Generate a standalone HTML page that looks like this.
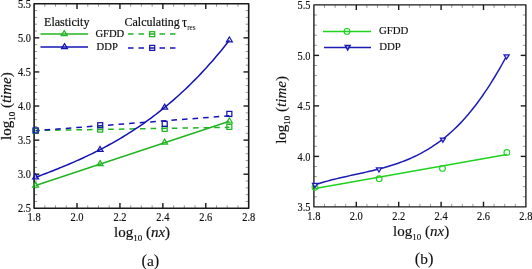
<!DOCTYPE html>
<html><head><meta charset="utf-8"><style>
html,body{margin:0;padding:0;background:#fff;overflow:hidden}
svg{display:block;will-change:transform}
text{font-family:"Liberation Serif", serif;fill:#111;stroke:#111;stroke-width:0.2px}
.R text{stroke-width:0.15px}
text.tk{stroke-width:0.15px}
</style></head><body>
<svg width="532" height="269" viewBox="0 0 532 269">
<rect width="532" height="269" fill="#fff"/>
<line x1="44.83" y1="208.30" x2="44.83" y2="205.30" stroke="#555" stroke-width="0.6"/>
<line x1="44.83" y1="3.75" x2="44.83" y2="6.75" stroke="#555" stroke-width="0.6"/>
<line x1="55.56" y1="208.30" x2="55.56" y2="205.30" stroke="#555" stroke-width="0.6"/>
<line x1="55.56" y1="3.75" x2="55.56" y2="6.75" stroke="#555" stroke-width="0.6"/>
<line x1="66.29" y1="208.30" x2="66.29" y2="205.30" stroke="#555" stroke-width="0.6"/>
<line x1="66.29" y1="3.75" x2="66.29" y2="6.75" stroke="#555" stroke-width="0.6"/>
<line x1="87.75" y1="208.30" x2="87.75" y2="205.30" stroke="#555" stroke-width="0.6"/>
<line x1="87.75" y1="3.75" x2="87.75" y2="6.75" stroke="#555" stroke-width="0.6"/>
<line x1="98.48" y1="208.30" x2="98.48" y2="205.30" stroke="#555" stroke-width="0.6"/>
<line x1="98.48" y1="3.75" x2="98.48" y2="6.75" stroke="#555" stroke-width="0.6"/>
<line x1="109.21" y1="208.30" x2="109.21" y2="205.30" stroke="#555" stroke-width="0.6"/>
<line x1="109.21" y1="3.75" x2="109.21" y2="6.75" stroke="#555" stroke-width="0.6"/>
<line x1="130.67" y1="208.30" x2="130.67" y2="205.30" stroke="#555" stroke-width="0.6"/>
<line x1="130.67" y1="3.75" x2="130.67" y2="6.75" stroke="#555" stroke-width="0.6"/>
<line x1="141.40" y1="208.30" x2="141.40" y2="205.30" stroke="#555" stroke-width="0.6"/>
<line x1="141.40" y1="3.75" x2="141.40" y2="6.75" stroke="#555" stroke-width="0.6"/>
<line x1="152.13" y1="208.30" x2="152.13" y2="205.30" stroke="#555" stroke-width="0.6"/>
<line x1="152.13" y1="3.75" x2="152.13" y2="6.75" stroke="#555" stroke-width="0.6"/>
<line x1="173.59" y1="208.30" x2="173.59" y2="205.30" stroke="#555" stroke-width="0.6"/>
<line x1="173.59" y1="3.75" x2="173.59" y2="6.75" stroke="#555" stroke-width="0.6"/>
<line x1="184.32" y1="208.30" x2="184.32" y2="205.30" stroke="#555" stroke-width="0.6"/>
<line x1="184.32" y1="3.75" x2="184.32" y2="6.75" stroke="#555" stroke-width="0.6"/>
<line x1="195.05" y1="208.30" x2="195.05" y2="205.30" stroke="#555" stroke-width="0.6"/>
<line x1="195.05" y1="3.75" x2="195.05" y2="6.75" stroke="#555" stroke-width="0.6"/>
<line x1="216.51" y1="208.30" x2="216.51" y2="205.30" stroke="#555" stroke-width="0.6"/>
<line x1="216.51" y1="3.75" x2="216.51" y2="6.75" stroke="#555" stroke-width="0.6"/>
<line x1="227.24" y1="208.30" x2="227.24" y2="205.30" stroke="#555" stroke-width="0.6"/>
<line x1="227.24" y1="3.75" x2="227.24" y2="6.75" stroke="#555" stroke-width="0.6"/>
<line x1="237.97" y1="208.30" x2="237.97" y2="205.30" stroke="#555" stroke-width="0.6"/>
<line x1="237.97" y1="3.75" x2="237.97" y2="6.75" stroke="#555" stroke-width="0.6"/>
<line x1="34.10" y1="201.48" x2="37.10" y2="201.48" stroke="#555" stroke-width="0.6"/>
<line x1="248.70" y1="201.48" x2="245.70" y2="201.48" stroke="#555" stroke-width="0.6"/>
<line x1="34.10" y1="194.66" x2="37.10" y2="194.66" stroke="#555" stroke-width="0.6"/>
<line x1="248.70" y1="194.66" x2="245.70" y2="194.66" stroke="#555" stroke-width="0.6"/>
<line x1="34.10" y1="187.85" x2="37.10" y2="187.85" stroke="#555" stroke-width="0.6"/>
<line x1="248.70" y1="187.85" x2="245.70" y2="187.85" stroke="#555" stroke-width="0.6"/>
<line x1="34.10" y1="181.03" x2="37.10" y2="181.03" stroke="#555" stroke-width="0.6"/>
<line x1="248.70" y1="181.03" x2="245.70" y2="181.03" stroke="#555" stroke-width="0.6"/>
<line x1="34.10" y1="167.39" x2="37.10" y2="167.39" stroke="#555" stroke-width="0.6"/>
<line x1="248.70" y1="167.39" x2="245.70" y2="167.39" stroke="#555" stroke-width="0.6"/>
<line x1="34.10" y1="160.57" x2="37.10" y2="160.57" stroke="#555" stroke-width="0.6"/>
<line x1="248.70" y1="160.57" x2="245.70" y2="160.57" stroke="#555" stroke-width="0.6"/>
<line x1="34.10" y1="153.75" x2="37.10" y2="153.75" stroke="#555" stroke-width="0.6"/>
<line x1="248.70" y1="153.75" x2="245.70" y2="153.75" stroke="#555" stroke-width="0.6"/>
<line x1="34.10" y1="146.94" x2="37.10" y2="146.94" stroke="#555" stroke-width="0.6"/>
<line x1="248.70" y1="146.94" x2="245.70" y2="146.94" stroke="#555" stroke-width="0.6"/>
<line x1="34.10" y1="133.30" x2="37.10" y2="133.30" stroke="#555" stroke-width="0.6"/>
<line x1="248.70" y1="133.30" x2="245.70" y2="133.30" stroke="#555" stroke-width="0.6"/>
<line x1="34.10" y1="126.48" x2="37.10" y2="126.48" stroke="#555" stroke-width="0.6"/>
<line x1="248.70" y1="126.48" x2="245.70" y2="126.48" stroke="#555" stroke-width="0.6"/>
<line x1="34.10" y1="119.66" x2="37.10" y2="119.66" stroke="#555" stroke-width="0.6"/>
<line x1="248.70" y1="119.66" x2="245.70" y2="119.66" stroke="#555" stroke-width="0.6"/>
<line x1="34.10" y1="112.84" x2="37.10" y2="112.84" stroke="#555" stroke-width="0.6"/>
<line x1="248.70" y1="112.84" x2="245.70" y2="112.84" stroke="#555" stroke-width="0.6"/>
<line x1="34.10" y1="99.21" x2="37.10" y2="99.21" stroke="#555" stroke-width="0.6"/>
<line x1="248.70" y1="99.21" x2="245.70" y2="99.21" stroke="#555" stroke-width="0.6"/>
<line x1="34.10" y1="92.39" x2="37.10" y2="92.39" stroke="#555" stroke-width="0.6"/>
<line x1="248.70" y1="92.39" x2="245.70" y2="92.39" stroke="#555" stroke-width="0.6"/>
<line x1="34.10" y1="85.57" x2="37.10" y2="85.57" stroke="#555" stroke-width="0.6"/>
<line x1="248.70" y1="85.57" x2="245.70" y2="85.57" stroke="#555" stroke-width="0.6"/>
<line x1="34.10" y1="78.75" x2="37.10" y2="78.75" stroke="#555" stroke-width="0.6"/>
<line x1="248.70" y1="78.75" x2="245.70" y2="78.75" stroke="#555" stroke-width="0.6"/>
<line x1="34.10" y1="65.12" x2="37.10" y2="65.12" stroke="#555" stroke-width="0.6"/>
<line x1="248.70" y1="65.12" x2="245.70" y2="65.12" stroke="#555" stroke-width="0.6"/>
<line x1="34.10" y1="58.30" x2="37.10" y2="58.30" stroke="#555" stroke-width="0.6"/>
<line x1="248.70" y1="58.30" x2="245.70" y2="58.30" stroke="#555" stroke-width="0.6"/>
<line x1="34.10" y1="51.48" x2="37.10" y2="51.48" stroke="#555" stroke-width="0.6"/>
<line x1="248.70" y1="51.48" x2="245.70" y2="51.48" stroke="#555" stroke-width="0.6"/>
<line x1="34.10" y1="44.66" x2="37.10" y2="44.66" stroke="#555" stroke-width="0.6"/>
<line x1="248.70" y1="44.66" x2="245.70" y2="44.66" stroke="#555" stroke-width="0.6"/>
<line x1="34.10" y1="31.02" x2="37.10" y2="31.02" stroke="#555" stroke-width="0.6"/>
<line x1="248.70" y1="31.02" x2="245.70" y2="31.02" stroke="#555" stroke-width="0.6"/>
<line x1="34.10" y1="24.20" x2="37.10" y2="24.20" stroke="#555" stroke-width="0.6"/>
<line x1="248.70" y1="24.20" x2="245.70" y2="24.20" stroke="#555" stroke-width="0.6"/>
<line x1="34.10" y1="17.39" x2="37.10" y2="17.39" stroke="#555" stroke-width="0.6"/>
<line x1="248.70" y1="17.39" x2="245.70" y2="17.39" stroke="#555" stroke-width="0.6"/>
<line x1="34.10" y1="10.57" x2="37.10" y2="10.57" stroke="#555" stroke-width="0.6"/>
<line x1="248.70" y1="10.57" x2="245.70" y2="10.57" stroke="#555" stroke-width="0.6"/>
<line x1="77.02" y1="208.30" x2="77.02" y2="203.10" stroke="#1a1a1a" stroke-width="1.4"/>
<line x1="77.02" y1="3.75" x2="77.02" y2="8.95" stroke="#1a1a1a" stroke-width="1.4"/>
<line x1="119.94" y1="208.30" x2="119.94" y2="203.10" stroke="#1a1a1a" stroke-width="1.4"/>
<line x1="119.94" y1="3.75" x2="119.94" y2="8.95" stroke="#1a1a1a" stroke-width="1.4"/>
<line x1="162.86" y1="208.30" x2="162.86" y2="203.10" stroke="#1a1a1a" stroke-width="1.4"/>
<line x1="162.86" y1="3.75" x2="162.86" y2="8.95" stroke="#1a1a1a" stroke-width="1.4"/>
<line x1="205.78" y1="208.30" x2="205.78" y2="203.10" stroke="#1a1a1a" stroke-width="1.4"/>
<line x1="205.78" y1="3.75" x2="205.78" y2="8.95" stroke="#1a1a1a" stroke-width="1.4"/>
<line x1="34.10" y1="174.21" x2="39.30" y2="174.21" stroke="#1a1a1a" stroke-width="1.4"/>
<line x1="248.70" y1="174.21" x2="243.50" y2="174.21" stroke="#1a1a1a" stroke-width="1.4"/>
<line x1="34.10" y1="140.12" x2="39.30" y2="140.12" stroke="#1a1a1a" stroke-width="1.4"/>
<line x1="248.70" y1="140.12" x2="243.50" y2="140.12" stroke="#1a1a1a" stroke-width="1.4"/>
<line x1="34.10" y1="106.02" x2="39.30" y2="106.02" stroke="#1a1a1a" stroke-width="1.4"/>
<line x1="248.70" y1="106.02" x2="243.50" y2="106.02" stroke="#1a1a1a" stroke-width="1.4"/>
<line x1="34.10" y1="71.93" x2="39.30" y2="71.93" stroke="#1a1a1a" stroke-width="1.4"/>
<line x1="248.70" y1="71.93" x2="243.50" y2="71.93" stroke="#1a1a1a" stroke-width="1.4"/>
<line x1="34.10" y1="37.84" x2="39.30" y2="37.84" stroke="#1a1a1a" stroke-width="1.4"/>
<line x1="248.70" y1="37.84" x2="243.50" y2="37.84" stroke="#1a1a1a" stroke-width="1.4"/>
<rect x="34.10" y="3.75" width="214.60" height="204.55" fill="none" stroke="#1a1a1a" stroke-width="1.6" stroke-linejoin="round"/>
<path d="M35.6,130.5 L229.4,127.3" fill="none" stroke="#22b422" stroke-width="1.5" stroke-dasharray="5.6 5" stroke-dashoffset="1.6"/>
<path d="M35.6,130.7 L229.4,115.8" fill="none" stroke="#1414b4" stroke-width="1.5" stroke-dasharray="5.6 5" stroke-dashoffset="1.6"/>
<path d="M35.6,185.5 L229.4,121.3" fill="none" stroke="#22b422" stroke-width="1.5"/>
<path d="M35.60,177.32 L37.78,176.51 L39.96,175.70 L42.13,174.88 L44.31,174.05 L46.49,173.22 L48.67,172.38 L50.84,171.53 L53.02,170.68 L55.20,169.82 L57.38,168.95 L59.55,168.07 L61.73,167.18 L63.91,166.28 L66.09,165.37 L68.26,164.46 L70.44,163.53 L72.62,162.59 L74.80,161.64 L76.97,160.67 L79.15,159.70 L81.33,158.71 L83.51,157.71 L85.68,156.69 L87.86,155.66 L90.04,154.62 L92.22,153.56 L94.39,152.49 L96.57,151.40 L98.75,150.30 L100.93,149.18 L103.10,148.04 L105.28,146.89 L107.46,145.72 L109.64,144.53 L111.81,143.32 L113.99,142.10 L116.17,140.85 L118.35,139.59 L120.52,138.30 L122.70,137.00 L124.88,135.68 L127.06,134.33 L129.23,132.97 L131.41,131.58 L133.59,130.17 L135.77,128.74 L137.94,127.28 L140.12,125.80 L142.30,124.30 L144.48,122.77 L146.65,121.22 L148.83,119.65 L151.01,118.05 L153.19,116.42 L155.36,114.77 L157.54,113.09 L159.72,111.38 L161.90,109.65 L164.07,107.89 L166.25,106.10 L168.43,104.29 L170.61,102.44 L172.78,100.57 L174.96,98.66 L177.14,96.73 L179.32,94.76 L181.49,92.77 L183.67,90.74 L185.85,88.68 L188.03,86.60 L190.20,84.47 L192.38,82.32 L194.56,80.13 L196.74,77.91 L198.91,75.66 L201.09,73.37 L203.27,71.04 L205.45,68.69 L207.62,66.29 L209.80,63.86 L211.98,61.40 L214.16,58.89 L216.33,56.35 L218.51,53.78 L220.69,51.16 L222.87,48.51 L225.04,45.82 L227.22,43.09 L229.40,40.32" fill="none" stroke="#1414b4" stroke-width="1.5"/>
<rect x="33.10" y="128.40" width="5.00" height="5.00" fill="none" stroke="#22b422" stroke-width="1.25"/>
<rect x="33.10" y="127.90" width="5.00" height="5.00" fill="none" stroke="#1414b4" stroke-width="1.25"/>
<rect x="97.70" y="127.10" width="5.00" height="5.00" fill="none" stroke="#22b422" stroke-width="1.25"/>
<rect x="97.70" y="122.70" width="5.00" height="5.00" fill="none" stroke="#1414b4" stroke-width="1.25"/>
<rect x="162.20" y="126.30" width="5.00" height="5.00" fill="none" stroke="#22b422" stroke-width="1.25"/>
<rect x="162.20" y="121.40" width="5.00" height="5.00" fill="none" stroke="#1414b4" stroke-width="1.25"/>
<rect x="226.85" y="124.40" width="5.00" height="5.00" fill="none" stroke="#22b422" stroke-width="1.25"/>
<rect x="226.85" y="111.40" width="5.00" height="5.00" fill="none" stroke="#1414b4" stroke-width="1.25"/>
<path d="M35.60,182.17 L38.60,187.17 L32.60,187.17Z" fill="none" stroke="#22b422" stroke-width="1.2" stroke-linejoin="miter"/>
<path d="M100.10,160.67 L103.10,165.67 L97.10,165.67Z" fill="none" stroke="#22b422" stroke-width="1.2" stroke-linejoin="miter"/>
<path d="M164.60,139.17 L167.60,144.17 L161.60,144.17Z" fill="none" stroke="#22b422" stroke-width="1.2" stroke-linejoin="miter"/>
<path d="M229.40,117.97 L232.40,122.97 L226.40,122.97Z" fill="none" stroke="#22b422" stroke-width="1.2" stroke-linejoin="miter"/>
<path d="M35.60,173.97 L38.60,178.97 L32.60,178.97Z" fill="none" stroke="#1414b4" stroke-width="1.2" stroke-linejoin="miter"/>
<path d="M100.10,146.47 L103.10,151.47 L97.10,151.47Z" fill="none" stroke="#1414b4" stroke-width="1.2" stroke-linejoin="miter"/>
<path d="M164.60,104.07 L167.60,109.07 L161.60,109.07Z" fill="none" stroke="#1414b4" stroke-width="1.2" stroke-linejoin="miter"/>
<path d="M229.40,36.97 L232.40,41.97 L226.40,41.97Z" fill="none" stroke="#1414b4" stroke-width="1.2" stroke-linejoin="miter"/>
<line x1="40.5" y1="34" x2="88" y2="34" stroke="#22b422" stroke-width="1.5"/>
<path d="M64.20,30.67 L67.20,35.67 L61.20,35.67Z" fill="none" stroke="#22b422" stroke-width="1.2" stroke-linejoin="miter"/>
<line x1="40.5" y1="47" x2="88" y2="47" stroke="#1414b4" stroke-width="1.5"/>
<path d="M64.50,43.67 L67.50,48.67 L61.50,48.67Z" fill="none" stroke="#1414b4" stroke-width="1.2" stroke-linejoin="miter"/>
<line x1="128" y1="34" x2="176.5" y2="34" stroke="#22b422" stroke-width="1.5" stroke-dasharray="5.5 5"/>
<rect x="149.70" y="31.70" width="5.00" height="5.00" fill="none" stroke="#22b422" stroke-width="1.25"/>
<line x1="128" y1="47.9" x2="176.5" y2="47.9" stroke="#1414b4" stroke-width="1.5" stroke-dasharray="5.5 5"/>
<rect x="149.70" y="45.40" width="5.00" height="5.00" fill="none" stroke="#1414b4" stroke-width="1.25"/>
<text x="44.10" y="25.50" font-size="12" text-anchor="start" >Elasticity</text>
<text x="124.50" y="26.00" font-size="12" text-anchor="start" >Calculating</text>
<text transform="translate(182.0,26.6) scale(0.88,1)" font-size="14.5">&#964;</text>
<text x="187.20" y="29.70" font-size="7.2" text-anchor="start" style="stroke-width:0.05px">res</text>
<text x="95.40" y="37.40" font-size="10.6" text-anchor="start" >GFDD</text>
<text x="96.60" y="50.00" font-size="10.6" text-anchor="start" >DDP</text>
<text class="tk" transform="translate(34.10,221.00) scale(0.95,1.1)" font-size="11" text-anchor="middle">1.8</text>
<text class="tk" transform="translate(77.02,221.00) scale(0.95,1.1)" font-size="11" text-anchor="middle">2.0</text>
<text class="tk" transform="translate(119.94,221.00) scale(0.95,1.1)" font-size="11" text-anchor="middle">2.2</text>
<text class="tk" transform="translate(162.86,221.00) scale(0.95,1.1)" font-size="11" text-anchor="middle">2.4</text>
<text class="tk" transform="translate(205.78,221.00) scale(0.95,1.1)" font-size="11" text-anchor="middle">2.6</text>
<text class="tk" transform="translate(248.70,221.00) scale(0.95,1.1)" font-size="11" text-anchor="middle">2.8</text>
<text class="tk" transform="translate(30.80,212.40) scale(0.94,1.18)" font-size="11" text-anchor="end">2.5</text>
<text class="tk" transform="translate(30.80,178.31) scale(0.94,1.18)" font-size="11" text-anchor="end">3.0</text>
<text class="tk" transform="translate(30.80,144.22) scale(0.94,1.18)" font-size="11" text-anchor="end">3.5</text>
<text class="tk" transform="translate(30.80,110.12) scale(0.94,1.18)" font-size="11" text-anchor="end">4.0</text>
<text class="tk" transform="translate(30.80,76.03) scale(0.94,1.18)" font-size="11" text-anchor="end">4.5</text>
<text class="tk" transform="translate(30.80,41.94) scale(0.94,1.18)" font-size="11" text-anchor="end">5.0</text>
<text class="tk" transform="translate(30.80,7.85) scale(0.94,1.18)" font-size="11" text-anchor="end">5.5</text>
<text x="114" y="237.2" font-size="15">log<tspan font-size="9" dy="4">10</tspan><tspan dy="-4"> (</tspan><tspan font-style="italic">nx</tspan>)</text>
<text transform="translate(11,140) rotate(-90)" x="0" y="0" font-size="15">log<tspan font-size="9" dy="4">10</tspan><tspan dy="-4"> (</tspan><tspan font-style="italic">time</tspan>)</text>
<text x="150.4" y="265.6" font-size="16.5" text-anchor="middle" style="stroke-width:0.1px">(<tspan font-size="15.5">a</tspan>)</text>
<g class="R">
<line x1="324.50" y1="206.90" x2="324.50" y2="203.90" stroke="#555" stroke-width="0.6"/>
<line x1="324.50" y1="4.90" x2="324.50" y2="7.90" stroke="#555" stroke-width="0.6"/>
<line x1="335.10" y1="206.90" x2="335.10" y2="203.90" stroke="#555" stroke-width="0.6"/>
<line x1="335.10" y1="4.90" x2="335.10" y2="7.90" stroke="#555" stroke-width="0.6"/>
<line x1="345.70" y1="206.90" x2="345.70" y2="203.90" stroke="#555" stroke-width="0.6"/>
<line x1="345.70" y1="4.90" x2="345.70" y2="7.90" stroke="#555" stroke-width="0.6"/>
<line x1="366.90" y1="206.90" x2="366.90" y2="203.90" stroke="#555" stroke-width="0.6"/>
<line x1="366.90" y1="4.90" x2="366.90" y2="7.90" stroke="#555" stroke-width="0.6"/>
<line x1="377.50" y1="206.90" x2="377.50" y2="203.90" stroke="#555" stroke-width="0.6"/>
<line x1="377.50" y1="4.90" x2="377.50" y2="7.90" stroke="#555" stroke-width="0.6"/>
<line x1="388.10" y1="206.90" x2="388.10" y2="203.90" stroke="#555" stroke-width="0.6"/>
<line x1="388.10" y1="4.90" x2="388.10" y2="7.90" stroke="#555" stroke-width="0.6"/>
<line x1="409.30" y1="206.90" x2="409.30" y2="203.90" stroke="#555" stroke-width="0.6"/>
<line x1="409.30" y1="4.90" x2="409.30" y2="7.90" stroke="#555" stroke-width="0.6"/>
<line x1="419.90" y1="206.90" x2="419.90" y2="203.90" stroke="#555" stroke-width="0.6"/>
<line x1="419.90" y1="4.90" x2="419.90" y2="7.90" stroke="#555" stroke-width="0.6"/>
<line x1="430.50" y1="206.90" x2="430.50" y2="203.90" stroke="#555" stroke-width="0.6"/>
<line x1="430.50" y1="4.90" x2="430.50" y2="7.90" stroke="#555" stroke-width="0.6"/>
<line x1="451.70" y1="206.90" x2="451.70" y2="203.90" stroke="#555" stroke-width="0.6"/>
<line x1="451.70" y1="4.90" x2="451.70" y2="7.90" stroke="#555" stroke-width="0.6"/>
<line x1="462.30" y1="206.90" x2="462.30" y2="203.90" stroke="#555" stroke-width="0.6"/>
<line x1="462.30" y1="4.90" x2="462.30" y2="7.90" stroke="#555" stroke-width="0.6"/>
<line x1="472.90" y1="206.90" x2="472.90" y2="203.90" stroke="#555" stroke-width="0.6"/>
<line x1="472.90" y1="4.90" x2="472.90" y2="7.90" stroke="#555" stroke-width="0.6"/>
<line x1="494.10" y1="206.90" x2="494.10" y2="203.90" stroke="#555" stroke-width="0.6"/>
<line x1="494.10" y1="4.90" x2="494.10" y2="7.90" stroke="#555" stroke-width="0.6"/>
<line x1="504.70" y1="206.90" x2="504.70" y2="203.90" stroke="#555" stroke-width="0.6"/>
<line x1="504.70" y1="4.90" x2="504.70" y2="7.90" stroke="#555" stroke-width="0.6"/>
<line x1="515.30" y1="206.90" x2="515.30" y2="203.90" stroke="#555" stroke-width="0.6"/>
<line x1="515.30" y1="4.90" x2="515.30" y2="7.90" stroke="#555" stroke-width="0.6"/>
<line x1="313.90" y1="196.80" x2="316.90" y2="196.80" stroke="#555" stroke-width="0.6"/>
<line x1="525.90" y1="196.80" x2="522.90" y2="196.80" stroke="#555" stroke-width="0.6"/>
<line x1="313.90" y1="186.70" x2="316.90" y2="186.70" stroke="#555" stroke-width="0.6"/>
<line x1="525.90" y1="186.70" x2="522.90" y2="186.70" stroke="#555" stroke-width="0.6"/>
<line x1="313.90" y1="176.60" x2="316.90" y2="176.60" stroke="#555" stroke-width="0.6"/>
<line x1="525.90" y1="176.60" x2="522.90" y2="176.60" stroke="#555" stroke-width="0.6"/>
<line x1="313.90" y1="166.50" x2="316.90" y2="166.50" stroke="#555" stroke-width="0.6"/>
<line x1="525.90" y1="166.50" x2="522.90" y2="166.50" stroke="#555" stroke-width="0.6"/>
<line x1="313.90" y1="146.30" x2="316.90" y2="146.30" stroke="#555" stroke-width="0.6"/>
<line x1="525.90" y1="146.30" x2="522.90" y2="146.30" stroke="#555" stroke-width="0.6"/>
<line x1="313.90" y1="136.20" x2="316.90" y2="136.20" stroke="#555" stroke-width="0.6"/>
<line x1="525.90" y1="136.20" x2="522.90" y2="136.20" stroke="#555" stroke-width="0.6"/>
<line x1="313.90" y1="126.10" x2="316.90" y2="126.10" stroke="#555" stroke-width="0.6"/>
<line x1="525.90" y1="126.10" x2="522.90" y2="126.10" stroke="#555" stroke-width="0.6"/>
<line x1="313.90" y1="116.00" x2="316.90" y2="116.00" stroke="#555" stroke-width="0.6"/>
<line x1="525.90" y1="116.00" x2="522.90" y2="116.00" stroke="#555" stroke-width="0.6"/>
<line x1="313.90" y1="95.80" x2="316.90" y2="95.80" stroke="#555" stroke-width="0.6"/>
<line x1="525.90" y1="95.80" x2="522.90" y2="95.80" stroke="#555" stroke-width="0.6"/>
<line x1="313.90" y1="85.70" x2="316.90" y2="85.70" stroke="#555" stroke-width="0.6"/>
<line x1="525.90" y1="85.70" x2="522.90" y2="85.70" stroke="#555" stroke-width="0.6"/>
<line x1="313.90" y1="75.60" x2="316.90" y2="75.60" stroke="#555" stroke-width="0.6"/>
<line x1="525.90" y1="75.60" x2="522.90" y2="75.60" stroke="#555" stroke-width="0.6"/>
<line x1="313.90" y1="65.50" x2="316.90" y2="65.50" stroke="#555" stroke-width="0.6"/>
<line x1="525.90" y1="65.50" x2="522.90" y2="65.50" stroke="#555" stroke-width="0.6"/>
<line x1="313.90" y1="45.30" x2="316.90" y2="45.30" stroke="#555" stroke-width="0.6"/>
<line x1="525.90" y1="45.30" x2="522.90" y2="45.30" stroke="#555" stroke-width="0.6"/>
<line x1="313.90" y1="35.20" x2="316.90" y2="35.20" stroke="#555" stroke-width="0.6"/>
<line x1="525.90" y1="35.20" x2="522.90" y2="35.20" stroke="#555" stroke-width="0.6"/>
<line x1="313.90" y1="25.10" x2="316.90" y2="25.10" stroke="#555" stroke-width="0.6"/>
<line x1="525.90" y1="25.10" x2="522.90" y2="25.10" stroke="#555" stroke-width="0.6"/>
<line x1="313.90" y1="15.00" x2="316.90" y2="15.00" stroke="#555" stroke-width="0.6"/>
<line x1="525.90" y1="15.00" x2="522.90" y2="15.00" stroke="#555" stroke-width="0.6"/>
<line x1="356.30" y1="206.90" x2="356.30" y2="201.70" stroke="#1a1a1a" stroke-width="1.4"/>
<line x1="356.30" y1="4.90" x2="356.30" y2="10.10" stroke="#1a1a1a" stroke-width="1.4"/>
<line x1="398.70" y1="206.90" x2="398.70" y2="201.70" stroke="#1a1a1a" stroke-width="1.4"/>
<line x1="398.70" y1="4.90" x2="398.70" y2="10.10" stroke="#1a1a1a" stroke-width="1.4"/>
<line x1="441.10" y1="206.90" x2="441.10" y2="201.70" stroke="#1a1a1a" stroke-width="1.4"/>
<line x1="441.10" y1="4.90" x2="441.10" y2="10.10" stroke="#1a1a1a" stroke-width="1.4"/>
<line x1="483.50" y1="206.90" x2="483.50" y2="201.70" stroke="#1a1a1a" stroke-width="1.4"/>
<line x1="483.50" y1="4.90" x2="483.50" y2="10.10" stroke="#1a1a1a" stroke-width="1.4"/>
<line x1="313.90" y1="156.40" x2="319.10" y2="156.40" stroke="#1a1a1a" stroke-width="1.4"/>
<line x1="525.90" y1="156.40" x2="520.70" y2="156.40" stroke="#1a1a1a" stroke-width="1.4"/>
<line x1="313.90" y1="105.90" x2="319.10" y2="105.90" stroke="#1a1a1a" stroke-width="1.4"/>
<line x1="525.90" y1="105.90" x2="520.70" y2="105.90" stroke="#1a1a1a" stroke-width="1.4"/>
<line x1="313.90" y1="55.40" x2="319.10" y2="55.40" stroke="#1a1a1a" stroke-width="1.4"/>
<line x1="525.90" y1="55.40" x2="520.70" y2="55.40" stroke="#1a1a1a" stroke-width="1.4"/>
<rect x="313.90" y="4.90" width="212.00" height="202.00" fill="none" stroke="#1a1a1a" stroke-width="1.35" stroke-linejoin="round"/>
<line x1="315.2" y1="188.4" x2="506.9" y2="154.6" stroke="#1ed21e" stroke-width="1.5"/>
<path d="M315.00,184.74 L317.43,183.95 L319.86,183.20 L322.28,182.47 L324.71,181.78 L327.14,181.10 L329.57,180.46 L331.99,179.83 L334.42,179.22 L336.85,178.63 L339.28,178.05 L341.71,177.49 L344.13,176.94 L346.56,176.40 L348.99,175.86 L351.42,175.33 L353.85,174.80 L356.27,174.28 L358.70,173.75 L361.13,173.22 L363.56,172.68 L365.98,172.14 L368.41,171.58 L370.84,171.02 L373.27,170.44 L375.70,169.84 L378.12,169.23 L380.55,168.60 L382.98,167.94 L385.41,167.26 L387.84,166.56 L390.26,165.83 L392.69,165.06 L395.12,164.27 L397.55,163.44 L399.97,162.57 L402.40,161.67 L404.83,160.72 L407.26,159.74 L409.69,158.70 L412.11,157.63 L414.54,156.50 L416.97,155.32 L419.40,154.09 L421.83,152.80 L424.25,151.46 L426.68,150.06 L429.11,148.60 L431.54,147.07 L433.96,145.48 L436.39,143.82 L438.82,142.09 L441.25,140.29 L443.68,138.41 L446.10,136.46 L448.53,134.42 L450.96,132.29 L453.39,130.07 L455.82,127.76 L458.24,125.36 L460.67,122.86 L463.10,120.26 L465.53,117.56 L467.95,114.76 L470.38,111.85 L472.81,108.84 L475.24,105.72 L477.67,102.50 L480.09,99.17 L482.52,95.73 L484.95,92.19 L487.38,88.55 L489.81,84.80 L492.23,80.94 L494.66,76.99 L497.09,72.93 L499.52,68.76 L501.94,64.50 L504.37,60.13 L506.80,55.67" fill="none" stroke="#1c1cb4" stroke-width="1.5"/>
<circle cx="315.00" cy="187.30" r="2.90" fill="none" stroke="#1ed21e" stroke-width="1.1"/>
<circle cx="379.20" cy="178.80" r="2.90" fill="none" stroke="#1ed21e" stroke-width="1.1"/>
<circle cx="442.50" cy="168.40" r="2.90" fill="none" stroke="#1ed21e" stroke-width="1.1"/>
<circle cx="506.90" cy="152.50" r="2.90" fill="none" stroke="#1ed21e" stroke-width="1.1"/>
<path d="M315.00,187.47 L317.50,183.47 L312.50,183.47Z" fill="#d8d8f4" stroke="#1c1cb4" stroke-width="1.3" stroke-linejoin="miter"/>
<path d="M379.00,171.97 L381.50,167.97 L376.50,167.97Z" fill="#d8d8f4" stroke="#1c1cb4" stroke-width="1.3" stroke-linejoin="miter"/>
<path d="M442.90,142.17 L445.40,138.17 L440.40,138.17Z" fill="#d8d8f4" stroke="#1c1cb4" stroke-width="1.3" stroke-linejoin="miter"/>
<path d="M506.60,58.97 L509.10,54.97 L504.10,54.97Z" fill="#d8d8f4" stroke="#1c1cb4" stroke-width="1.3" stroke-linejoin="miter"/>
<line x1="323" y1="31.5" x2="371" y2="31.5" stroke="#1ed21e" stroke-width="1.5"/>
<circle cx="347.00" cy="31.40" r="2.90" fill="none" stroke="#1ed21e" stroke-width="1.1"/>
<line x1="324" y1="47.6" x2="371" y2="47.6" stroke="#1c1cb4" stroke-width="1.5"/>
<path d="M347.70,49.93 L350.10,45.53 L345.30,45.53Z" fill="#b4b4e8" stroke="#1c1cb4" stroke-width="1.5" stroke-linejoin="miter"/>
<text x="379.00" y="34.20" font-size="10.8" text-anchor="start" >GFDD</text>
<text x="379.20" y="50.30" font-size="10.8" text-anchor="start" >DDP</text>
<text class="tk" transform="translate(313.90,219.60) scale(0.95,1.1)" font-size="11" text-anchor="middle">1.8</text>
<text class="tk" transform="translate(356.30,219.60) scale(0.95,1.1)" font-size="11" text-anchor="middle">2.0</text>
<text class="tk" transform="translate(398.70,219.60) scale(0.95,1.1)" font-size="11" text-anchor="middle">2.2</text>
<text class="tk" transform="translate(441.10,219.60) scale(0.95,1.1)" font-size="11" text-anchor="middle">2.4</text>
<text class="tk" transform="translate(483.50,219.60) scale(0.95,1.1)" font-size="11" text-anchor="middle">2.6</text>
<text class="tk" transform="translate(525.90,219.60) scale(0.95,1.1)" font-size="11" text-anchor="middle">2.8</text>
<text class="tk" transform="translate(310.40,211.10) scale(0.94,1.18)" font-size="11" text-anchor="end">3.5</text>
<text class="tk" transform="translate(310.40,160.60) scale(0.94,1.18)" font-size="11" text-anchor="end">4.0</text>
<text class="tk" transform="translate(310.40,110.10) scale(0.94,1.18)" font-size="11" text-anchor="end">4.5</text>
<text class="tk" transform="translate(310.40,59.60) scale(0.94,1.18)" font-size="11" text-anchor="end">5.0</text>
<text class="tk" transform="translate(310.40,9.10) scale(0.94,1.18)" font-size="11" text-anchor="end">5.5</text>
<text x="393.1" y="235.7" font-size="15">log<tspan font-size="9" dy="4">10</tspan><tspan dy="-4"> (</tspan><tspan font-style="italic">nx</tspan>)</text>
<text transform="translate(286,143.8) rotate(-90)" x="0" y="0" font-size="15">log<tspan font-size="9" dy="4">10</tspan><tspan dy="-4"> (</tspan><tspan font-style="italic">time</tspan>)</text>
<text x="424.1" y="263.75" font-size="16.5" text-anchor="middle" style="stroke-width:0.1px">(<tspan font-size="15.5">b</tspan>)</text>
</g>
</svg></body></html>
